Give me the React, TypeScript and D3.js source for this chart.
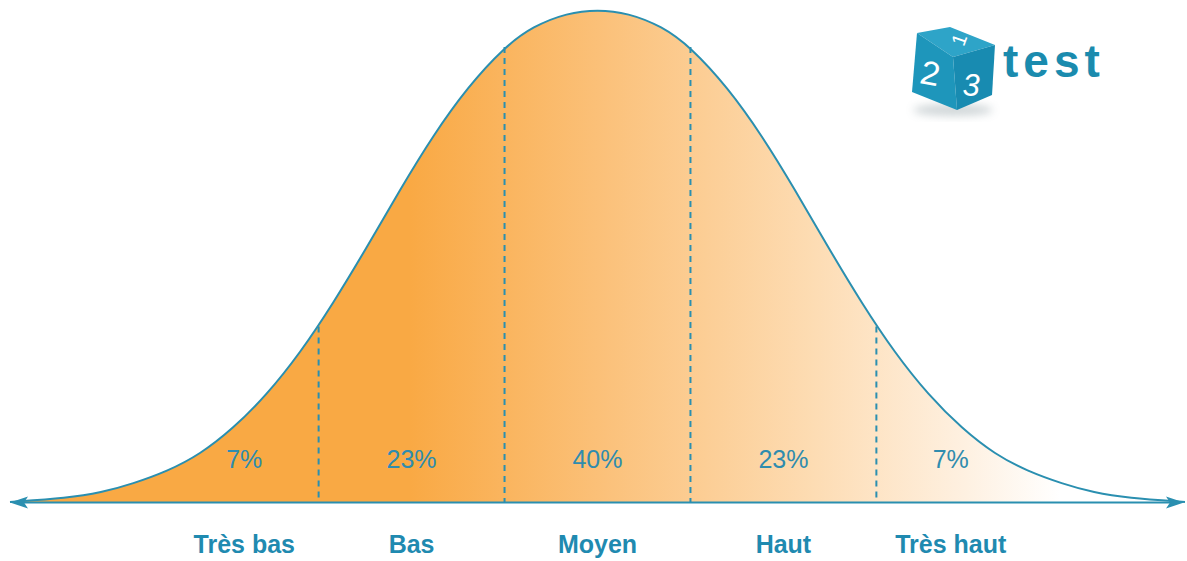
import React from "react";
import * as d3 from "d3";

// Curve samples (z in band units, density relative to peak)
const zValues = [
  -3.16, -2.85, -2.67, -2.5, -2.31, -2.14, -1.96, -1.78, -1.6, -1.42, -1.24, -1.06, -0.885, -0.7, -0.5, -0.347, -0.164,
  0,
  0.164, 0.347, 0.5, 0.7, 0.885, 1.06, 1.24, 1.42, 1.6, 1.78, 1.96, 2.14, 2.31, 2.5, 2.67, 2.85, 3.16,
];
const density = [
  0.001, 0.009, 0.02, 0.038, 0.064, 0.097, 0.15, 0.218, 0.303, 0.405, 0.518, 0.636, 0.744, 0.842, 0.924, 0.966, 0.993,
  1.0,
  0.993, 0.966, 0.924, 0.842, 0.744, 0.636, 0.518, 0.405, 0.303, 0.218, 0.15, 0.097, 0.064, 0.038, 0.02, 0.009, 0.001,
];

const dividers = [-1.5, -0.5, 0.5, 1.5];
const dividerHeights = [0.357, 0.924, 0.924, 0.357];
const categories = ["Très bas", "Bas", "Moyen", "Haut", "Très haut"];
const percentages = ["7%", "23%", "40%", "23%", "7%"];
const labelPositions = [-1.9, -1.0, 0, 1.0, 1.9];

const W = 1187;
const H = 561;
const BLUE = "#2a8fb0";
const TEXT_BLUE = "#1f8ab0";

export default function App() {
  const x = d3.scaleLinear().domain([-3.16, 3.16]).range([10, 1185]);
  const y = d3.scaleLinear().domain([0, 1]).range([502.5, 9.5]);
  const pts = zValues.map((z, i) => [z, density[i]] as [number, number]);

  const area = d3
    .area<[number, number]>()
    .x((d) => x(d[0]))
    .y0(y(0))
    .y1((d) => y(d[1]))
    .curve(d3.curveBasis);
  const line = d3
    .line<[number, number]>()
    .x((d) => x(d[0]))
    .y((d) => y(d[1]))
    .curve(d3.curveBasis);

  const axisY = y(0);

  return (
    <svg
      width={W}
      height={H}
      style={{ position: "absolute", left: 0, top: 0, background: "#fff" }}
      fontFamily="'Liberation Sans', Arial, sans-serif"
    >
      <defs>
        <linearGradient id="fillGrad" gradientUnits="userSpaceOnUse" x1={410} y1={0} x2={1060} y2={0}>
          <stop offset="0" stopColor="#f9a944" />
          <stop offset="0.3" stopColor="#fbc17a" />
          <stop offset="0.62" stopColor="#fddcb3" />
          <stop offset="0.85" stopColor="#fef0e0" />
          <stop offset="1" stopColor="#ffffff" />
        </linearGradient>
        <filter id="shadowBlur" x="-50%" y="-50%" width="200%" height="200%">
          <feGaussianBlur stdDeviation="4" />
        </filter>
      </defs>

      <path d={area(pts) || ""} fill="url(#fillGrad)" />
      <path d={line(pts) || ""} fill="none" stroke={BLUE} strokeWidth={2} />

      {dividers.map((z, i) => (
        <line
          key={i}
          x1={x(z)}
          x2={x(z)}
          y1={y(dividerHeights[i])}
          y2={axisY}
          stroke={BLUE}
          strokeWidth={2}
          strokeDasharray="6 5"
        />
      ))}

      {/* axis with arrows */}
      <line x1={24} x2={1170} y1={axisY} y2={axisY} stroke={BLUE} strokeWidth={2.2} />
      <path d={`M10,${axisY} L28,${axisY - 6} L24,${axisY} L28,${axisY + 6} Z`} fill={BLUE} />
      <path d={`M1184,${axisY} L1166,${axisY - 6} L1170,${axisY} L1166,${axisY + 6} Z`} fill={BLUE} />

      {percentages.map((p, i) => (
        <text key={i} x={x(labelPositions[i])} y={468} textAnchor="middle" fontSize={25} fill="#2f8cae">
          {p}
        </text>
      ))}
      {categories.map((c, i) => (
        <text key={i} x={x(labelPositions[i])} y={553} textAnchor="middle" fontSize={25} fontWeight="bold" fill={TEXT_BLUE}>
          {c}
        </text>
      ))}

      {/* logo */}
      <g>
        <ellipse cx={953} cy={110} rx={40} ry={6} fill="#8a9a9f" opacity={0.4} filter="url(#shadowBlur)" />
        <polygon points="917,33 950,27 995,45 953,57" fill="#2ea4c8" />
        <polygon points="917,33 953,57 957,110 912,92" fill="#1e96bb" />
        <polygon points="953,57 995,45 992,95 957,110" fill="#188bb1" />
        <text x={960} y={46} fontSize={20} fill="#fff" textAnchor="middle"
          transform="rotate(-70 960 40)">1</text>
        <text x={930} y={84} fontSize={34} fill="#fff" fontStyle="italic" textAnchor="middle"
          transform="skewY(10)" dy={-163}>2</text>
        <text x={971} y={96} fontSize={31} fill="#fff" fontStyle="italic" textAnchor="middle">3</text>
        <text x={1003} y={77} fontSize={46} fontWeight="bold" fill="#1a8bae" letterSpacing={5}>test</text>
      </g>
    </svg>
  );
}
